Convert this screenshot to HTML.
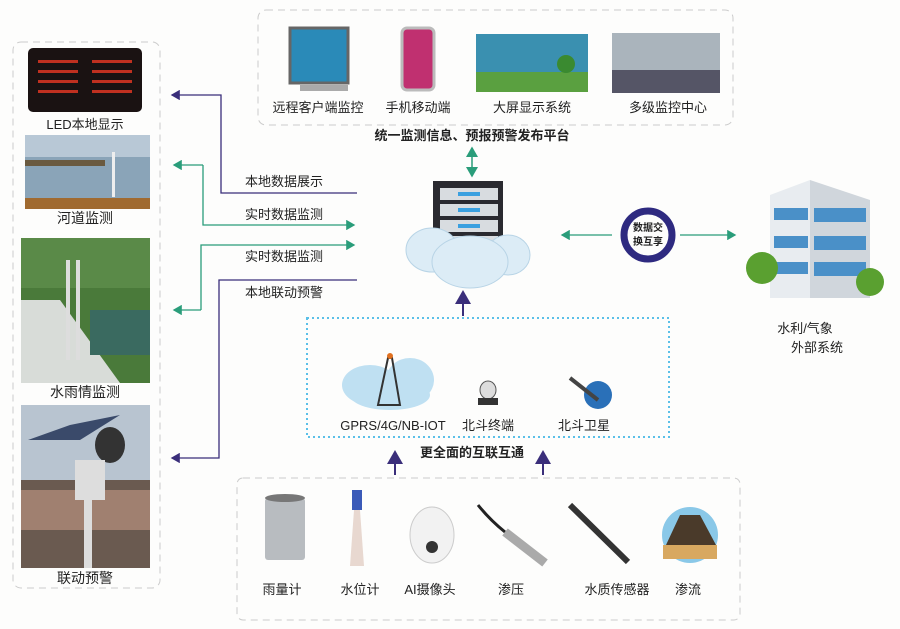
<!DOCTYPE html>
<html><head><meta charset="utf-8"><style>
body{margin:0;background:#fff}
svg{display:block}
text{font-family:"Liberation Sans","Noto Sans CJK SC",sans-serif;fill:#222}
</style></head><body>
<svg width="900" height="629" viewBox="0 0 900 629" xmlns="http://www.w3.org/2000/svg">
<defs>
<marker id="ap" markerWidth="8" markerHeight="8" refX="6" refY="4" orient="auto"><path d="M0,0 L7,4 L0,8z" fill="#3a2e7a"/></marker>
<marker id="ag" markerWidth="8" markerHeight="8" refX="6" refY="4" orient="auto"><path d="M0,0 L7,4 L0,8z" fill="#2a9d7a"/></marker>
</defs>
<rect width="900" height="629" fill="#fdfdfc"/>
<!-- left panel -->
<rect x="13" y="42" width="147" height="546" rx="8" fill="none" stroke="#ccc" stroke-dasharray="7,5"/>
<rect x="28" y="48" width="114" height="64" rx="5" fill="#1a1212"/>
<g fill="#c03020"><rect x="38" y="60" width="40" height="3"/><rect x="38" y="70" width="40" height="3"/><rect x="38" y="80" width="40" height="3"/><rect x="38" y="90" width="40" height="3"/><rect x="92" y="60" width="40" height="3"/><rect x="92" y="70" width="40" height="3"/><rect x="92" y="80" width="40" height="3"/><rect x="92" y="90" width="40" height="3"/></g>
<text x="85" y="129" font-size="13" text-anchor="middle">LED本地显示</text>
<rect x="25" y="135" width="125" height="74" fill="#8aa4b8"/>
<rect x="25" y="135" width="125" height="22" fill="#b8c8d6"/>
<rect x="25" y="160" width="80" height="6" fill="#6a5a40"/>
<rect x="25" y="198" width="125" height="11" fill="#a06a30"/>
<rect x="112" y="152" width="3" height="45" fill="#eee"/>
<text x="85" y="223" font-size="14" text-anchor="middle">河道监测</text>
<rect x="21" y="238" width="129" height="145" fill="#4a7a3a"/>
<rect x="21" y="238" width="129" height="50" fill="#5a8a48"/>
<polygon points="21,300 21,383 120,383 60,300" fill="#d8dcd8"/>
<rect x="90" y="310" width="60" height="45" fill="#3a6a60"/>
<rect x="66" y="260" width="4" height="100" fill="#ddd"/>
<rect x="76" y="260" width="4" height="100" fill="#ddd"/>
<text x="85" y="397" font-size="14" text-anchor="middle">水雨情监测</text>
<rect x="21" y="405" width="129" height="163" fill="#b8c4d0"/>
<rect x="21" y="480" width="129" height="88" fill="#6a5a50"/>
<rect x="21" y="490" width="129" height="40" fill="#a08070"/>
<polygon points="28,440 70,425 120,415 80,440" fill="#3a4a6a"/>
<ellipse cx="110" cy="445" rx="15" ry="18" fill="#333"/>
<rect x="75" y="460" width="30" height="40" fill="#ddd"/>
<rect x="84" y="500" width="8" height="68" fill="#ddd"/>
<text x="85" y="583" font-size="14" text-anchor="middle">联动预警</text>
<!-- top panel -->
<rect x="258" y="10" width="475" height="115" rx="8" fill="none" stroke="#ccc" stroke-dasharray="7,5"/>
<rect x="290" y="28" width="58" height="55" fill="#2a8ab8" stroke="#666" stroke-width="3"/>
<rect x="300" y="85" width="48" height="6" fill="#aaa"/>
<text x="318" y="112" font-size="13" text-anchor="middle">远程客户端监控</text>
<rect x="402" y="28" width="32" height="62" rx="5" fill="#c03070" stroke="#bbb" stroke-width="3"/>
<text x="418" y="112" font-size="13" text-anchor="middle">手机移动端</text>
<rect x="476" y="34" width="112" height="58" fill="#3a90b0"/>
<rect x="476" y="72" width="112" height="20" fill="#5aa040"/>
<circle cx="566" cy="64" r="9" fill="#3a8a30"/>
<text x="532" y="112" font-size="13" text-anchor="middle">大屏显示系统</text>
<rect x="612" y="33" width="108" height="60" fill="#aab4bc"/>
<rect x="612" y="70" width="108" height="23" fill="#556"/>
<text x="668" y="112" font-size="13" text-anchor="middle">多级监控中心</text>
<text x="472" y="140" font-size="13" font-weight="bold" text-anchor="middle">统一监测信息、预报预警发布平台</text>
<line x1="472" y1="162" x2="472" y2="148" stroke="#2a9d7a" stroke-width="1.5" marker-end="url(#ag)"/>
<line x1="472" y1="162" x2="472" y2="176" stroke="#2a9d7a" stroke-width="1.5" marker-end="url(#ag)"/>
<!-- connectors -->
<polyline points="357,193 221,193 221,95 172,95" fill="none" stroke="#3a2e7a" stroke-width="1.3" marker-end="url(#ap)"/>
<text x="245" y="186" font-size="13">本地数据展示</text>
<polyline points="203,165 203,225 354,225" fill="none" stroke="#2a9d7a" stroke-width="1.3" marker-end="url(#ag)"/>
<line x1="203" y1="165" x2="174" y2="165" stroke="#2a9d7a" stroke-width="1.3" marker-end="url(#ag)"/>
<text x="245" y="219" font-size="13">实时数据监测</text>
<polyline points="201,310 201,245 354,245" fill="none" stroke="#2a9d7a" stroke-width="1.3" marker-end="url(#ag)"/>
<line x1="201" y1="310" x2="174" y2="310" stroke="#2a9d7a" stroke-width="1.3" marker-end="url(#ag)"/>
<text x="245" y="261" font-size="13">实时数据监测</text>
<polyline points="357,280 219,280 219,458 172,458" fill="none" stroke="#3a2e7a" stroke-width="1.3" marker-end="url(#ap)"/>
<text x="245" y="297" font-size="13">本地联动预警</text>
<!-- server cloud -->
<rect x="433" y="181" width="70" height="72" fill="#2a2a30"/>
<g fill="#d8dce0"><rect x="440" y="188" width="58" height="12"/><rect x="440" y="204" width="58" height="12"/><rect x="440" y="220" width="58" height="12"/><rect x="440" y="236" width="58" height="12"/></g>
<g fill="#3aa0e0"><rect x="458" y="192" width="22" height="4"/><rect x="458" y="208" width="22" height="4"/><rect x="458" y="224" width="22" height="4"/></g>
<g fill="#dcecf6" stroke="#b8d4e6"><ellipse cx="432" cy="250" rx="26" ry="22"/><ellipse cx="508" cy="255" rx="22" ry="20"/><ellipse cx="470" cy="262" rx="38" ry="26"/></g>
<line x1="463" y1="316" x2="463" y2="292" stroke="#3a2e7a" stroke-width="2" marker-end="url(#ap)"/>
<!-- exchange -->
<line x1="612" y1="235" x2="562" y2="235" stroke="#2a9d7a" stroke-width="1.3" marker-end="url(#ag)"/>
<line x1="680" y1="235" x2="735" y2="235" stroke="#2a9d7a" stroke-width="1.3" marker-end="url(#ag)"/>
<circle cx="648" cy="235" r="24" fill="none" stroke="#2e2a80" stroke-width="7"/>
<text x="648" y="231" font-size="10" font-weight="bold" text-anchor="middle">数据交</text>
<text x="648" y="245" font-size="10" font-weight="bold" text-anchor="middle">换互享</text>
<!-- building -->
<polygon points="770,195 810,180 810,298 770,298" fill="#e8ecf0"/>
<polygon points="810,180 870,200 870,298 810,298" fill="#d0d6dc"/>
<g fill="#4a90c8"><rect x="774" y="208" width="34" height="12"/><rect x="774" y="236" width="34" height="12"/><rect x="774" y="262" width="34" height="12"/><rect x="814" y="208" width="52" height="14"/><rect x="814" y="236" width="52" height="14"/><rect x="814" y="262" width="52" height="14"/></g>
<circle cx="762" cy="268" r="16" fill="#5aa030"/><circle cx="870" cy="282" r="14" fill="#5aa030"/>
<text x="805" y="333" font-size="13" text-anchor="middle">水利/气象</text>
<text x="817" y="352" font-size="13" text-anchor="middle">外部系统</text>
<!-- comm box -->
<rect x="307" y="318" width="362" height="119" fill="none" stroke="#5ac0e8" stroke-width="2" stroke-dasharray="2,3"/>
<g fill="#bfe0f2"><ellipse cx="370" cy="385" rx="28" ry="20"/><ellipse cx="410" cy="380" rx="24" ry="22"/><ellipse cx="390" cy="395" rx="40" ry="15"/></g>
<polygon points="388,358 378,405 400,405 392,358" fill="none" stroke="#333" stroke-width="2"/>
<circle cx="390" cy="356" r="3" fill="#e07020"/>
<text x="393" y="430" font-size="13" text-anchor="middle">GPRS/4G/NB-IOT</text>
<ellipse cx="488" cy="390" rx="8" ry="9" fill="#ddd" stroke="#555"/>
<rect x="478" y="398" width="20" height="7" fill="#333"/>
<text x="488" y="430" font-size="13" text-anchor="middle">北斗终端</text>
<circle cx="598" cy="395" r="14" fill="#2a70b8"/>
<line x1="570" y1="378" x2="598" y2="400" stroke="#444" stroke-width="4"/>
<text x="584" y="430" font-size="13" text-anchor="middle">北斗卫星</text>
<text x="472" y="457" font-size="13" font-weight="bold" text-anchor="middle">更全面的互联互通</text>
<line x1="395" y1="475" x2="395" y2="452" stroke="#3a2e7a" stroke-width="2" marker-end="url(#ap)"/>
<line x1="543" y1="475" x2="543" y2="452" stroke="#3a2e7a" stroke-width="2" marker-end="url(#ap)"/>
<!-- sensors -->
<rect x="237" y="478" width="503" height="142" rx="6" fill="none" stroke="#ccc" stroke-dasharray="7,5"/>
<rect x="265" y="498" width="40" height="62" rx="3" fill="#b8bcc0"/>
<ellipse cx="285" cy="498" rx="20" ry="4" fill="#777"/>
<text x="282" y="594" font-size="13" text-anchor="middle">雨量计</text>
<rect x="352" y="490" width="10" height="20" fill="#3a5ab8"/>
<polygon points="354,510 360,510 364,566 350,566" fill="#e8d8d0"/>
<text x="360" y="594" font-size="13" text-anchor="middle">水位计</text>
<ellipse cx="432" cy="535" rx="22" ry="28" fill="#f2f2f2" stroke="#ccc"/>
<circle cx="432" cy="547" r="6" fill="#333"/>
<text x="430" y="594" font-size="13" text-anchor="middle">AI摄像头</text>
<path d="M478,505 Q490,520 505,532" stroke="#222" stroke-width="3" fill="none"/>
<line x1="505" y1="532" x2="545" y2="563" stroke="#aaa" stroke-width="9"/>
<text x="511" y="594" font-size="13" text-anchor="middle">渗压</text>
<line x1="570" y1="505" x2="628" y2="562" stroke="#333" stroke-width="6"/>
<text x="617" y="594" font-size="13" text-anchor="middle">水质传感器</text>
<circle cx="690" cy="535" r="28" fill="#8ac8e8"/>
<polygon points="680,515 700,515 716,545 666,545" fill="#4a3a2a"/>
<rect x="663" y="545" width="54" height="14" fill="#d8a860"/>
<text x="688" y="594" font-size="13" text-anchor="middle">渗流</text>
</svg>
</body></html>
